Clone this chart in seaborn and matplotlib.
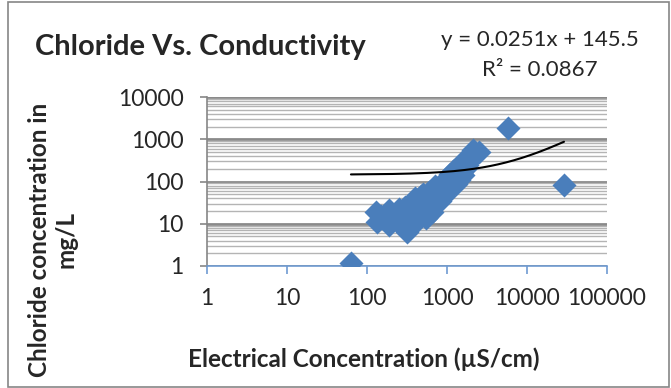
import matplotlib
matplotlib.use("Agg")
import matplotlib.pyplot as plt
import matplotlib.ticker as mticker
from matplotlib.patches import Rectangle
import numpy as np
import pandas as pd
import seaborn as sns

# ---- data ----
conductivity = [63, 130, 132, 150, 188, 190, 200, 230, 250, 250, 270, 280, 290, 300,
                320, 330, 350, 360, 380, 380, 400, 420, 420, 450, 470, 480, 500, 520,
                550, 560, 600, 620, 650, 680, 700, 700, 720, 750, 800, 820, 850, 900,
                920, 950, 1000, 1000, 1050, 1100, 1100, 1200, 1200, 1300, 1300, 1400,
                1400, 1500, 1500, 1600, 1600, 1700, 1800, 1800, 1900, 2000, 2100, 2200,
                2500, 5800, 29000]
chloride = [1.2, 19, 11, 15, 21, 9.5, 14, 12, 17, 22, 10, 14, 8, 25,
            6.5, 12, 20, 9, 15, 35, 40, 12, 30, 30, 18, 45, 50, 22,
            14, 35, 55, 25, 19, 40, 60, 80, 30, 45, 70, 35, 55, 90,
            45, 65, 120, 60, 80, 150, 70, 100, 180, 130, 85, 200,
            110, 160, 250, 140, 300, 200, 350, 250, 300, 450, 560, 400,
            500, 1850, 83]
trend_slope = 0.0251
trend_intercept = 145.5
title_text = "Chloride Vs. Conductivity"
eq_text = "y = 0.0251x + 145.5"
r2_text = "R² = 0.0867"
xlabel_text = "Electrical Concentration (µS/cm)"
ylabel_text = "Chloride concentration in\nmg/L"
x_ticks = [1, 10, 100, 1000, 10000, 100000]
y_ticks = [1, 10, 100, 1000, 10000]

df = pd.DataFrame({"cond": conductivity, "cl": chloride})

sns.set_theme(style="white")
plt.rcParams["font.family"] = ["Lato", "DejaVu Sans"]

W, H = 671, 388
fig = plt.figure(figsize=(W / 100, H / 100), dpi=100)
ax = fig.add_axes([207 / W, 1 - 266 / H, 400 / W, 169 / H])

blue = "#4a7ebb"
sns.scatterplot(data=df, x="cond", y="cl", marker="D", s=150, color=blue,
                edgecolor=blue, linewidth=0, ax=ax, zorder=3)

# linear trendline over data range
xt = np.linspace(min(conductivity), max(conductivity), 400)
ax.plot(xt, trend_slope * xt + trend_intercept, color="black", lw=1.5, zorder=4)

ax.set_xscale("log")
ax.set_yscale("log")
ax.set_xlim(1, 100000)
ax.set_ylim(1, 10000)
ax.set_xticks(x_ticks)
ax.set_xticklabels([str(t) for t in x_ticks])
ax.set_yticks(y_ticks)
ax.set_yticklabels([str(t) for t in y_ticks])
ax.xaxis.set_minor_locator(mticker.NullLocator())
ax.yaxis.set_minor_locator(mticker.LogLocator(base=10, subs=np.arange(2, 10), numticks=50))
ax.yaxis.set_minor_formatter(mticker.NullFormatter())

ax.grid(False)
ax.yaxis.grid(True, which="major", color="#8a8a8a", lw=2.0, zorder=0)
ax.yaxis.grid(True, which="minor", color="#b4b4b4", lw=1.0, zorder=0)
ax.set_axisbelow(True)

for side in ["top", "right"]:
    ax.spines[side].set_visible(False)
ax.spines["left"].set_color("#868686")
ax.spines["left"].set_linewidth(1.2)
ax.spines["bottom"].set_color("#6f9bd2")
ax.spines["bottom"].set_linewidth(1.2)

ax.tick_params(axis="x", which="major", direction="out", length=6, width=1.2,
               color="#6f9bd2", labelsize=16.5, pad=10, bottom=True)
ax.tick_params(axis="y", which="major", direction="out", length=5, width=1.2,
               color="#868686", labelsize=16.5, pad=12, left=True)
ax.tick_params(axis="y", which="minor", length=0)

ax.set_xlabel("")
ax.set_ylabel("")

fig.text(200 / W, 1 - 47 / H, title_text, ha="center", va="center",
         fontsize=21, fontweight="bold")
fig.text(540 / W, 1 - 40 / H, eq_text, ha="center", va="center", fontsize=16)
fig.text(540 / W, 1 - 70 / H, r2_text, ha="center", va="center", fontsize=16)
fig.text(364 / W, 1 - 359 / H, xlabel_text, ha="center", va="center",
         fontsize=17.5, fontweight="bold")
fig.text(53 / W, 1 - 240 / H, ylabel_text, ha="center", va="center",
         fontsize=17.5, fontweight="bold", rotation=90, linespacing=1.2,
         multialignment="center")

fig.patches.append(Rectangle((8 / W, 1 / H), 661 / W, 385 / H, transform=fig.transFigure,
                             fill=False, edgecolor="#868686", lw=1.2))

fig.savefig("out.png", dpi=100)
